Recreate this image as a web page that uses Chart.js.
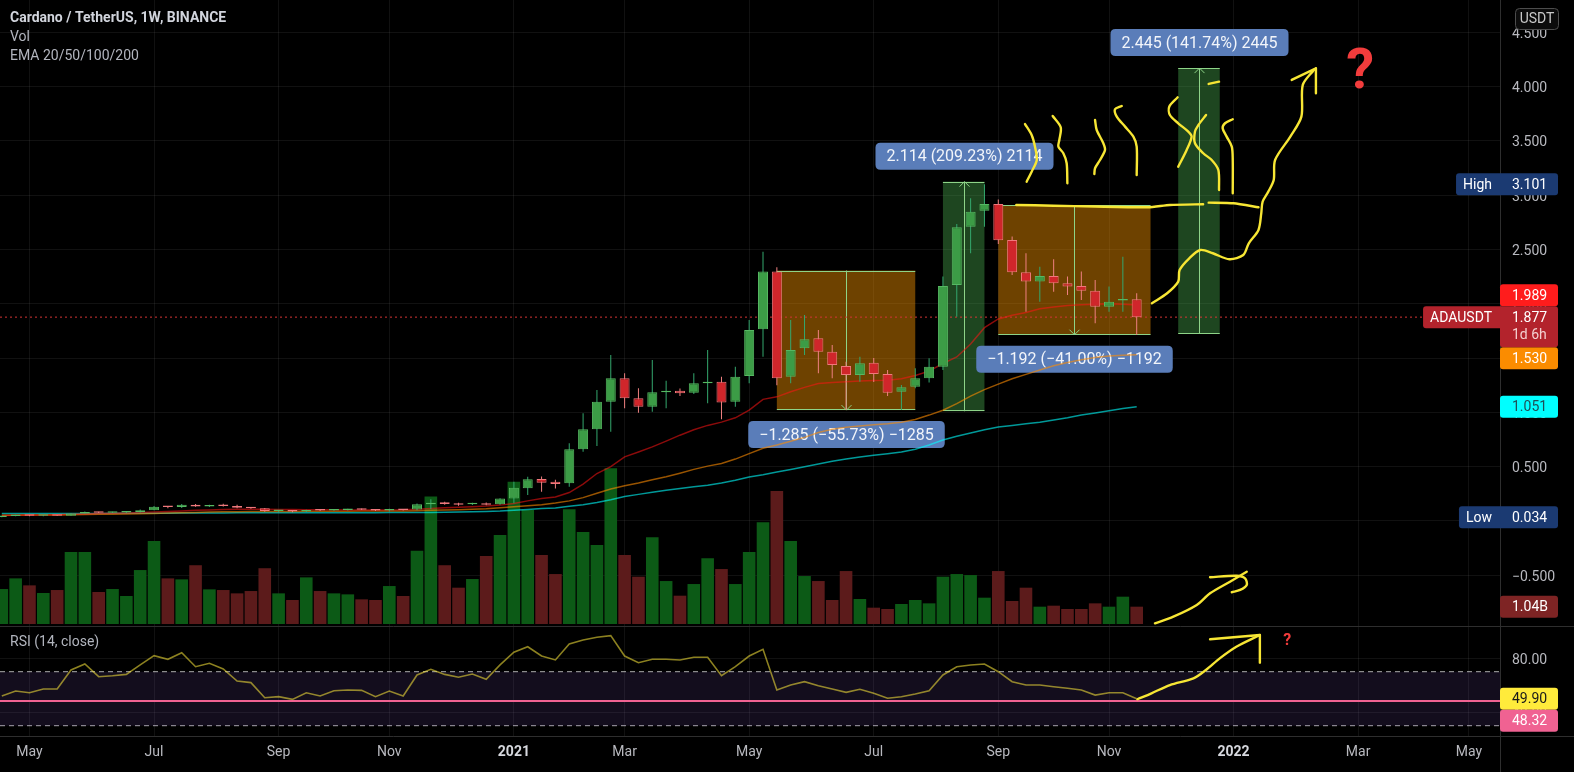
<!DOCTYPE html>
<html>
<head>
<meta charset="utf-8">
<title>Cardano / TetherUS, 1W, BINANCE</title>
<script src="https://cdn.jsdelivr.net/npm/chart.js@4.4.1/dist/chart.umd.min.js"></script>
<style>
  html, body { margin: 0; padding: 0; background: #000; overflow: hidden; }
  canvas { display: block; }
</style>
</head>
<body>
<canvas id="chart" width="1574" height="772"></canvas>
<script>
// ADA/USDT weekly candles. Bar 0 = week of 20 Apr 2020.

const opens = [0.036, 0.045, 0.052, 0.048, 0.051, 0.049, 0.070, 0.078, 0.076, 0.077, 0.080, 0.099, 0.130, 0.128, 0.150, 0.134, 0.140, 0.138, 0.122, 0.117, 0.093, 0.094, 0.088, 0.101, 0.097, 0.102, 0.106, 0.104, 0.097, 0.107,
  0.105, 0.155, 0.172, 0.163, 0.155, 0.163, 0.155, 0.207, 0.301, 0.387, 0.362, 0.347, 0.660, 0.844, 1.098, 1.314, 1.130, 1.052, 1.185, 1.200, 1.181, 1.268, 1.283, 1.098, 1.335, 1.765, 2.296,
  1.329, 1.590, 1.682, 1.559, 1.427, 1.344, 1.458, 1.354, 1.191, 1.237, 1.314, 1.421, 2.173, 2.710, 2.857, 2.919, 2.587, 2.290, 2.204, 2.256, 2.189, 2.164, 2.121, 1.973, 2.029, 2.041];
const highs = [0.046, 0.058, 0.056, 0.054, 0.055, 0.073, 0.088, 0.086, 0.084, 0.088, 0.105, 0.137, 0.138, 0.156, 0.157, 0.150, 0.158, 0.150, 0.126, 0.120, 0.099, 0.098, 0.103, 0.106, 0.106, 0.112, 0.115, 0.110, 0.112, 0.110,
  0.160, 0.200, 0.178, 0.168, 0.168, 0.170, 0.210, 0.362, 0.408, 0.410, 0.380, 0.715, 0.992, 1.206, 1.528, 1.360, 1.222, 1.483, 1.292, 1.220, 1.360, 1.575, 1.329, 1.421, 1.851, 2.480, 2.336,
  1.851, 1.897, 1.759, 1.621, 1.467, 1.513, 1.500, 1.390, 1.252, 1.406, 1.498, 2.250, 2.735, 2.971, 3.101, 2.960, 2.620, 2.465, 2.342, 2.410, 2.250, 2.296, 2.219, 2.158, 2.434, 2.097];
const lows = [0.034, 0.043, 0.044, 0.044, 0.048, 0.048, 0.068, 0.073, 0.073, 0.074, 0.079, 0.098, 0.117, 0.120, 0.130, 0.128, 0.133, 0.118, 0.113, 0.085, 0.083, 0.080, 0.083, 0.093, 0.094, 0.097, 0.100, 0.092, 0.088, 0.096,
  0.099, 0.110, 0.150, 0.140, 0.147, 0.145, 0.150, 0.163, 0.239, 0.270, 0.300, 0.316, 0.638, 0.690, 0.822, 1.038, 0.997, 1.006, 1.038, 1.150, 1.170, 1.084, 0.936, 1.052, 1.268, 1.513, 1.250,
  1.268, 1.529, 1.360, 1.314, 1.022, 1.283, 1.280, 1.151, 1.022, 1.222, 1.274, 1.390, 1.881, 2.465, 2.710, 2.550, 2.265, 1.927, 2.019, 2.111, 2.081, 2.035, 1.820, 1.927, 1.927, 1.713];
const closes = [0.045, 0.052, 0.048, 0.051, 0.049, 0.070, 0.078, 0.076, 0.080, 0.080, 0.099, 0.130, 0.128, 0.150, 0.134, 0.140, 0.138, 0.122, 0.117, 0.093, 0.094, 0.088, 0.101, 0.097, 0.102, 0.106, 0.104, 0.097, 0.107, 0.101,
  0.155, 0.160, 0.157, 0.150, 0.160, 0.150, 0.207, 0.307, 0.384, 0.353, 0.340, 0.660, 0.844, 1.098, 1.314, 1.130, 1.052, 1.185, 1.195, 1.176, 1.268, 1.280, 1.090, 1.329, 1.759, 2.296, 1.314,
  1.575, 1.673, 1.559, 1.436, 1.344, 1.452, 1.354, 1.181, 1.231, 1.314, 1.421, 2.164, 2.704, 2.848, 2.919, 2.586, 2.290, 2.204, 2.256, 2.189, 2.158, 2.121, 1.973, 2.019, 2.041, 1.877];
// volume in billions of ADA
const volumes = [2.10, 2.74, 2.32, 1.86, 2.04, 4.32, 4.32, 1.92, 2.10, 1.68, 3.24, 4.98, 2.74, 2.68, 3.53, 2.08, 2.04, 1.84, 1.98, 3.35, 1.84, 1.44, 2.80, 1.98, 1.84, 1.78, 1.48, 1.44, 2.28, 1.68,
  4.40, 7.65, 3.53, 2.18, 2.70, 4.08, 5.35, 8.55, 6.85, 4.14, 3.00, 6.89, 5.53, 4.74, 9.35, 4.14, 2.84, 5.21, 2.58, 1.70, 2.40, 3.95, 3.30, 2.40, 4.32, 6.11, 7.99,
  4.98, 2.88, 2.58, 1.44, 3.18, 1.50, 0.98, 0.90, 1.20, 1.44, 1.24, 2.84, 3.00, 2.94, 1.58, 3.18, 1.38, 2.18, 1.04, 1.10, 0.90, 0.90, 1.24, 1.04, 1.64, 1.04];

const ema20 = [0.050, 0.052, 0.054, 0.056, 0.058, 0.061, 0.065, 0.068, 0.071, 0.074, 0.078, 0.083, 0.088, 0.093, 0.098, 0.102, 0.105, 0.107, 0.108, 0.107, 0.106, 0.105, 0.104, 0.103, 0.103, 0.102, 0.102, 0.101, 0.101, 0.103,
  0.108, 0.115, 0.121, 0.126, 0.131, 0.137, 0.146, 0.160, 0.185, 0.208, 0.221, 0.262, 0.340, 0.437, 0.500, 0.590, 0.635, 0.682, 0.735, 0.790, 0.840, 0.880, 0.910, 0.950, 1.020, 1.120, 1.143,
  1.190, 1.230, 1.265, 1.275, 1.283, 1.290, 1.293, 1.296, 1.310, 1.340, 1.380, 1.450, 1.510, 1.630, 1.780, 1.860, 1.895, 1.920, 1.955, 1.970, 1.985, 1.990, 1.995, 2.000, 1.995, 1.989];
const ema50 = [0.052, 0.053, 0.054, 0.055, 0.056, 0.057, 0.059, 0.061, 0.063, 0.065, 0.067, 0.070, 0.073, 0.076, 0.079, 0.082, 0.084, 0.086, 0.087, 0.088, 0.088, 0.088, 0.089, 0.089, 0.090, 0.090, 0.091, 0.091, 0.092, 0.093,
  0.095, 0.098, 0.101, 0.104, 0.108, 0.113, 0.122, 0.130, 0.140, 0.150, 0.165, 0.185, 0.215, 0.255, 0.295, 0.325, 0.350, 0.380, 0.408, 0.440, 0.475, 0.505, 0.530, 0.570, 0.620, 0.670, 0.700,
  0.735, 0.770, 0.815, 0.845, 0.862, 0.875, 0.885, 0.895, 0.910, 0.935, 0.975, 1.020, 1.080, 1.150, 1.210, 1.260, 1.310, 1.350, 1.390, 1.430, 1.460, 1.485, 1.505, 1.518, 1.526, 1.530];
const ema100 = [0.070, 0.070, 0.070, 0.070, 0.070, 0.070, 0.070, 0.070, 0.071, 0.071, 0.071, 0.072, 0.072, 0.073, 0.073, 0.074, 0.074, 0.075, 0.075, 0.075, 0.075, 0.075, 0.075, 0.076, 0.076, 0.076, 0.076, 0.076, 0.077, 0.077,
  0.078, 0.079, 0.081, 0.083, 0.085, 0.088, 0.092, 0.099, 0.106, 0.114, 0.120, 0.135, 0.150, 0.170, 0.195, 0.225, 0.245, 0.265, 0.283, 0.300, 0.315, 0.330, 0.350, 0.375, 0.405, 0.425, 0.450,
  0.475, 0.500, 0.525, 0.550, 0.570, 0.590, 0.605, 0.620, 0.635, 0.660, 0.700, 0.745, 0.780, 0.810, 0.840, 0.865, 0.880, 0.895, 0.910, 0.930, 0.950, 0.975, 0.995, 1.015, 1.035, 1.051];

const rsi = [52, 55.7, 54.4, 57.2, 57.2, 71.3, 75.7, 66.3, 67, 68, 75, 81.9, 79.2, 84.1, 73.7, 76.2, 72, 63.1, 61.9, 50.7, 51.5, 49.5, 54.4, 52, 55.9, 56.4, 56.2, 51.5, 55.7, 52,
  67.6, 71.8, 68, 65.9, 68.3, 64.4, 75, 84.4, 88.5, 81.6, 78.7, 90.5, 93.5, 95.5, 96.7, 81.6, 76.7, 79.2, 79.2, 78.7, 80.7, 80.7, 67, 73.7, 81.6, 86.6, 56.4,
  60.2, 62.6, 59.6, 57.2, 54.7, 57, 54, 50.3, 51.5, 53.5, 55.9, 67.6, 73.7, 75, 75.7, 70, 62.6, 60.2, 60.2, 58.9, 57.7, 56.4, 52.7, 54.4, 54.4, 49.90];
const rsiLevel = 48.32;

const monthTicks = [2, 11, 20, 28, 37, 45, 54, 63, 72, 80, 89, 98, 106];
const monthLabels = ['May', 'Jul', 'Sep', 'Nov', '2021', 'Mar', 'May', 'Jul', 'Sep', 'Nov', '2022', 'Mar', 'May'];
const priceTicks = [-0.5, 0, 0.5, 1, 1.5, 2, 2.5, 3, 3.5, 4, 4.5];
const rsiTicks = [80, 40];

// price range tool: bar span, start price, end price, caption
const boxBars = [[56, 66], [68, 71], [72, 83], [85, 88]];
const boxFrom = [2.306, 1.0104, 2.907, 1.725];
const boxTo = [1.021, 3.1244, 1.715, 4.170];
const boxText = ['\u22121.285 (\u221255.73%) \u22121285', '2.114 (209.23%) 2114', '\u22121.192 (\u221241.00%) \u22121192', '2.445 (141.74%) 2445'];

// hand drawn yellow strokes as [bar, price]
const strokeTop1 = [[73.3, 2.91], [76, 2.903], [79, 2.895], [82.84, 2.889], [84.4, 2.91], [86.8, 2.916]];
const strokeTop2 = [[87.2, 2.931], [89, 2.925], [90.8, 2.889]];
const strokeRise = [[83.1, 2.005], [84.2, 2.097], [85.0, 2.204], [85.1, 2.311], [85.8, 2.419], [86.6, 2.495], [87.5, 2.465], [88.7, 2.41], [89.7, 2.449], [90.1, 2.557],
  [90.8, 2.68], [91.0, 2.833], [91.1, 2.94], [91.5, 3.03], [91.9, 3.14], [92.0, 3.324], [93.1, 3.539], [93.9, 3.723], [94.0, 4.015], [94.8, 4.153]];
const strokeRiseHead = [[93.2, 4.061], [94.95, 4.168], [94.95, 3.938]];
const squiggle1 = [[73.93, 3.655], [74.41, 3.554], [74.65, 3.447], [74.78, 3.324], [74.41, 3.216], [74.05, 3.124]];
const squiggle2 = [[75.93, 3.729], [76.51, 3.625], [76.41, 3.508], [76.34, 3.447], [76.7, 3.386], [76.94, 3.294], [76.99, 3.11]];
const squiggle3 = [[78.99, 3.692], [79.11, 3.6], [79.59, 3.478], [79.71, 3.416], [79.35, 3.324], [78.99, 3.248], [78.94, 3.195]];
const squiggle4 = [[80.92, 3.821], [80.43, 3.791], [80.56, 3.723], [81.16, 3.631], [81.76, 3.539], [82.0, 3.447], [82.0, 3.186]];
const squiggle5 = [[84.96, 3.901], [84.35, 3.815], [84.4, 3.738], [85.0, 3.662], [85.73, 3.585], [85.97, 3.539], [85.61, 3.416], [85.0, 3.262]];
const squiggle6 = [[87.01, 3.738], [86.46, 3.646], [86.21, 3.585], [86.21, 3.478], [86.81, 3.386], [87.42, 3.324], [87.9, 3.232], [87.95, 3.048]];
const squiggle7 = [[88.94, 3.699], [88.38, 3.662], [88.21, 3.616], [88.5, 3.539], [88.87, 3.447], [88.94, 3.324], [88.94, 3.018]];
const squiggle8 = [[87.2, 4.024], [87.95, 4.045]];
const volArrow = [[83.32, -0.942], [84.65, -0.881], [86.34, -0.773], [87.3, -0.666], [88.74, -0.559], [89.95, -0.467]];
const volArrowHead = [[87.3, -0.518], [89.23, -0.504], [89.83, -0.528], [89.95, -0.589], [89.47, -0.635], [88.87, -0.656]];
const rsiArrow = [[82.05, 49.6], [83.07, 54], [84.4, 60.1], [86.1, 65.1], [87.0, 71.3], [88.0, 79.9], [89.2, 88.5], [90.9, 97.2]];
const rsiArrowHead = [[87.3, 94.0], [90.9, 97.2], [90.9, 76.7]];
const questionMarks = [
  { bar: 98.14, value: 4.12, axis: 'y', size: 56 },
  { bar: 92.87, value: 92.7, axis: 'yr', size: 16 }
];

// ---- layout / style ----
const FONT = 'Roboto, "Noto Sans", "Liberation Sans", sans-serif';
const X_MIN = -0.13, X_MAX = 108.25;
const PRICE_MIN = -0.967, PRICE_MAX = 4.797;
const RSI_MIN = 22.37, RSI_MAX = 103.85;
const VOL_MIN = -6.727, VOL_MAX = 37.477;
const GRID = 'rgba(255,255,255,0.065)';
const EDGE = '#2e2e2e';
const AXIS_TEXT = '#b8b9bf';
const YELLOW = '#f7e634';

const UP_BODY = '#3c9c46', UP_EDGE = '#56b862', UP_WICK = '#34a86e';
const DN_BODY = '#d0262b', DN_EDGE = '#f0787c', DN_WICK = '#ef8080';
const isUp = closes.map((c, i) => c >= opens[i]);

function pts(arr) { return arr.map(([x, y]) => ({ x, y })); }

function stroke(arr, axis, tension) {
  return {
    type: 'line', data: pts(arr), yAxisID: axis || 'y', order: 0,
    borderColor: YELLOW, borderWidth: 2.4, pointRadius: 0,
    tension: tension === undefined ? 0.3 : tension,
    borderCapStyle: 'round', borderJoinStyle: 'round'
  };
}

function flatLine(value, axis, color, width, dash, order) {
  return {
    type: 'line', data: [{ x: X_MIN, y: value }, { x: X_MAX, y: value }], yAxisID: axis,
    borderColor: color, borderWidth: width, borderDash: dash, pointRadius: 0, order: order
  };
}

// keep the plot area edge to edge: no label padding from the axes
function noPad(s) {
  s.paddingTop = 0; s.paddingBottom = 0; s.paddingLeft = 0; s.paddingRight = 0;
}

const datasets = [
  // volume overlay
  {
    type: 'bar', yAxisID: 'yv', order: 100, grouped: false,
    data: volumes.map((v, i) => ({ x: i, y: v })),
    backgroundColor: isUp.map(u => u ? '#0c5a16' : '#5c1b1b'),
    barThickness: 12.6, borderWidth: 0, inflateAmount: 0
  },
  // EMA 20/50/100
  { type: 'line', yAxisID: 'y', order: 50, data: ema20.map((v, i) => ({ x: i, y: v })), borderColor: 'rgba(255,20,20,0.55)', borderWidth: 1.5, pointRadius: 0 },
  { type: 'line', yAxisID: 'y', order: 50, data: ema50.map((v, i) => ({ x: i, y: v })), borderColor: 'rgba(255,140,0,0.6)', borderWidth: 1.5, pointRadius: 0 },
  { type: 'line', yAxisID: 'y', order: 50, data: ema100.map((v, i) => ({ x: i, y: v })), borderColor: 'rgba(0,255,255,0.6)', borderWidth: 1.5, pointRadius: 0 },
  // last price line
  flatLine(closes[closes.length - 1], 'y', '#d33535', 1, [2, 3], 45),
  // candle wicks and bodies
  {
    type: 'bar', yAxisID: 'y', order: 20, grouped: false,
    data: highs.map((h, i) => ({ x: i, y: [lows[i], h] })),
    backgroundColor: isUp.map(u => u ? UP_WICK : DN_WICK),
    barThickness: 1, borderWidth: 0, inflateAmount: 0
  },
  {
    type: 'bar', yAxisID: 'y', order: 10, grouped: false,
    data: opens.map((o, i) => ({ x: i, y: [o, closes[i]] })),
    backgroundColor: isUp.map(u => u ? UP_BODY : DN_BODY),
    borderColor: isUp.map(u => u ? UP_EDGE : DN_EDGE),
    borderWidth: 1, borderSkipped: false, barThickness: 10, minBarLength: 1.5, inflateAmount: 0
  },
  // RSI pane
  Object.assign(flatLine(70, 'yr', 'rgba(230,230,230,0.75)', 1, [5, 4], 40), { fill: '+1', backgroundColor: 'rgba(126,87,194,0.15)' }),
  flatLine(30, 'yr', 'rgba(230,230,230,0.75)', 1, [5, 4], 40),
  flatLine(rsiLevel, 'yr', '#f06292', 2, [], 35),
  { type: 'line', yAxisID: 'yr', order: 30, data: rsi.map((v, i) => ({ x: i, y: v })), borderColor: 'rgba(255,235,59,0.55)', borderWidth: 1.6, pointRadius: 0 },
  // drawings
  stroke(strokeTop1, 'y', 0.2), stroke(strokeTop2, 'y', 0.2), stroke(strokeRise), stroke(strokeRiseHead, 'y', 0),
  stroke(squiggle1), stroke(squiggle2), stroke(squiggle3), stroke(squiggle4),
  stroke(squiggle5), stroke(squiggle6), stroke(squiggle7), stroke(squiggle8, 'y', 0),
  stroke(volArrow), stroke(volArrowHead, 'y', 0.3),
  stroke(rsiArrow, 'yr'), stroke(rsiArrowHead, 'yr', 0)
];

function rr(ctx, x, y, w, h, r) {
  ctx.beginPath();
  ctx.moveTo(x + r, y);
  ctx.lineTo(x + w - r, y);
  ctx.quadraticCurveTo(x + w, y, x + w, y + r);
  ctx.lineTo(x + w, y + h - r);
  ctx.quadraticCurveTo(x + w, y + h, x + w - r, y + h);
  ctx.lineTo(x + r, y + h);
  ctx.quadraticCurveTo(x, y + h, x, y + h - r);
  ctx.lineTo(x, y + r);
  ctx.quadraticCurveTo(x, y, x + r, y);
  ctx.closePath();
}

// value tag on the right price scale
function priceTag(ctx, yc, bg, fg, text, label) {
  const h = 22, left = 1500, right = 1558;
  ctx.font = '14px ' + FONT;
  let x0 = left;
  if (label) x0 = left - ctx.measureText(label).width - 15;
  ctx.fillStyle = bg;
  rr(ctx, x0, yc - h / 2, right - x0, h, 3);
  ctx.fill();
  ctx.fillStyle = fg;
  ctx.textBaseline = 'middle';
  ctx.textAlign = 'left';
  if (label) ctx.fillText(label, x0 + 7, yc + 1);
  ctx.fillText(text, left + 12, yc + 1);
}

const decor = {
  id: 'decor',
  beforeDatasetsDraw(chart) {
    const { ctx } = chart;
    const xs = chart.scales.x, ys = chart.scales.y;
    ctx.save();
    ctx.beginPath();
    ctx.rect(xs.left, ys.top, xs.width, ys.height);
    ctx.clip();
    boxBars.forEach((b, i) => {
      const x0 = xs.getPixelForValue(b[0]), x1 = xs.getPixelForValue(b[1]);
      const yA = ys.getPixelForValue(boxFrom[i]), yB = ys.getPixelForValue(boxTo[i]);
      const rising = boxTo[i] > boxFrom[i];
      const top = Math.min(yA, yB), bot = Math.max(yA, yB);
      ctx.fillStyle = rising ? 'rgba(76,175,80,0.40)' : 'rgba(255,152,0,0.43)';
      ctx.fillRect(x0, top, x1 - x0, bot - top);
      ctx.strokeStyle = '#8ed488';
      ctx.lineWidth = 1;
      const xm = Math.round((x0 + x1) / 2) + 0.5;
      const d = rising ? 1 : -1;
      ctx.beginPath();
      ctx.moveTo(x0, Math.round(top) + 0.5); ctx.lineTo(x1, Math.round(top) + 0.5);
      ctx.moveTo(x0, Math.round(bot) - 0.5); ctx.lineTo(x1, Math.round(bot) - 0.5);
      ctx.moveTo(xm, yA); ctx.lineTo(xm, yB);
      ctx.moveTo(xm - 5, yB + 5 * d); ctx.lineTo(xm, yB); ctx.lineTo(xm + 5, yB + 5 * d);
      ctx.stroke();
      ctx.font = '16px ' + FONT;
      const w = ctx.measureText(boxText[i]).width + 22, h = 27;
      const ly = rising ? top - 12 - h : bot + 11;
      ctx.fillStyle = '#5a7db9';
      rr(ctx, xm - w / 2, ly, w, h, 5);
      ctx.fill();
      ctx.fillStyle = '#f2f5fa';
      ctx.textAlign = 'center';
      ctx.textBaseline = 'middle';
      ctx.fillText(boxText[i], xm, ly + h / 2 + 1);
    });
    ctx.restore();
  },
  afterDraw(chart) {
    const { ctx } = chart;
    const xs = chart.scales.x, ys = chart.scales.y, yr = chart.scales.yr, yv = chart.scales.yv;
    const last = closes.length - 1;
    ctx.save();

    // pane separators
    ctx.strokeStyle = EDGE;
    ctx.lineWidth = 1;
    ctx.beginPath();
    ctx.moveTo(0, Math.round(yr.top) + 0.5); ctx.lineTo(1574, Math.round(yr.top) + 0.5);
    ctx.moveTo(0, Math.round(xs.top) + 0.5); ctx.lineTo(1574, Math.round(xs.top) + 0.5);
    ctx.moveTo(Math.round(ys.left) + 0.5, 0); ctx.lineTo(Math.round(ys.left) + 0.5, 772);
    ctx.stroke();

    // question marks
    questionMarks.forEach(q => {
      ctx.font = 'bold ' + q.size + 'px ' + FONT;
      ctx.fillStyle = '#f23c3c';
      ctx.textAlign = 'center';
      ctx.textBaseline = 'middle';
      ctx.fillText('?', xs.getPixelForValue(q.bar), chart.scales[q.axis].getPixelForValue(q.value));
    });

    // legend texts
    ctx.textAlign = 'left';
    ctx.textBaseline = 'middle';
    ctx.fillStyle = '#d1d4dc';
    ctx.font = 'bold 14px ' + FONT;
    ctx.fillText('Cardano / TetherUS, 1W, BINANCE', 10, 18);
    ctx.fillStyle = '#b2b5be';
    ctx.font = '14px ' + FONT;
    ctx.fillText('Vol', 10, 37.5);
    ctx.fillText('EMA 20/50/100/200', 10, 56);
    ctx.fillText('RSI (14, close)', 10, yr.top + 16);

    // currency box
    ctx.fillStyle = '#0c0c0c';
    ctx.strokeStyle = '#4d4d4d';
    rr(ctx, 1515.5, 8.5, 43, 21, 4);
    ctx.fill();
    ctx.stroke();
    ctx.fillStyle = '#c8c8c8';
    ctx.textAlign = 'center';
    ctx.fillText('USDT', 1537, 19.5);

    // high / low of visible range
    priceTag(ctx, ys.getPixelForValue(Math.max(...highs)), '#1b3a72', '#ffffff', Math.max(...highs).toFixed(3), 'High');
    priceTag(ctx, ys.getPixelForValue(Math.min(...lows)), '#1b3a72', '#ffffff', Math.min(...lows).toFixed(3), 'Low');

    // last price tag, other tags pushed clear of it
    const yClose = ys.getPixelForValue(closes[last]);
    const fixTop = yClose - 11, fixBot = yClose + 30;
    [[ema20[last], '#ff1c1c', '#ffffff'], [ema50[last], '#fb8c00', '#ffffff'], [ema100[last], '#00ffff', '#1f4f57']].forEach(([v, bg, fg]) => {
      let yc = ys.getPixelForValue(v);
      if (yc + 11 > fixTop && yc - 11 < fixBot) yc = yc < yClose ? fixTop - 11 : fixBot + 11;
      priceTag(ctx, yc, bg, fg, v.toFixed(3));
    });
    ctx.font = '14px ' + FONT;
    const lbl = 'ADAUSDT';
    const lx = 1500 - ctx.measureText(lbl).width - 15;
    ctx.fillStyle = '#b3232c';
    rr(ctx, lx, fixTop, 1500 - lx + 4, 22, 3);
    ctx.fill();
    rr(ctx, 1500, fixTop, 58, fixBot - fixTop, 3);
    ctx.fill();
    ctx.fillStyle = '#ffffff';
    ctx.textAlign = 'left';
    ctx.fillText(lbl, lx + 7, yClose + 1);
    ctx.fillText(closes[last].toFixed(3), 1512, yClose + 1);
    ctx.fillStyle = '#f3d0d0';
    ctx.fillText('1d 6h', 1512, yClose + 18);

    // volume tag
    priceTag(ctx, yv.getPixelForValue(volumes[last]), '#7e2424', '#ffffff', volumes[last].toFixed(2) + 'B');

    // RSI tags
    const yRsi = yr.getPixelForValue(rsi[last]);
    priceTag(ctx, yRsi, '#ffeb3b', '#1a1a1a', rsi[last].toFixed(2));
    let yLvl = yr.getPixelForValue(rsiLevel);
    if (Math.abs(yLvl - yRsi) < 22) yLvl = yRsi + 22;
    priceTag(ctx, yLvl, '#f06292', '#ffffff', rsiLevel.toFixed(2));
    ctx.restore();
  }
};

Chart.defaults.font.family = FONT;

new Chart(document.getElementById('chart'), {
  type: 'line',
  data: { datasets: datasets },
  options: {
    responsive: false,
    animation: false,
    events: [],
    layout: { padding: 0 },
    plugins: { legend: { display: false }, tooltip: { enabled: false } },
    scales: {
      x: {
        type: 'linear', min: X_MIN, max: X_MAX, offset: false,
        grid: { color: GRID, offset: false, drawTicks: false },
        border: { display: false },
        afterBuildTicks: s => { s.ticks = monthTicks.map(v => ({ value: v })); },
        afterFit: s => { s.height = 36; noPad(s); },
        ticks: {
          autoSkip: false, maxRotation: 0, padding: 8,
          color: c => /\d/.test(monthLabels[c.index]) ? '#d6d8de' : AXIS_TEXT,
          font: c => ({ family: FONT, size: 14, weight: /\d/.test(monthLabels[c.index]) ? 'bold' : 'normal' }),
          callback: (v, i) => monthLabels[i]
        }
      },
      y: {
        type: 'linear', position: 'right', stack: 'panes', stackWeight: 626,
        min: PRICE_MIN, max: PRICE_MAX, beginAtZero: false,
        grid: { color: GRID, drawTicks: false },
        border: { display: false },
        afterBuildTicks: s => { s.ticks = priceTicks.map(v => ({ value: v })); },
        afterFit: s => { s.width = 74; noPad(s); },
        ticks: {
          padding: 12, labelOffset: 2, color: AXIS_TEXT, font: { size: 14 },
          callback: v => v.toFixed(3).replace('-', '\u2212')
        }
      },
      yr: {
        type: 'linear', position: 'right', stack: 'panes', stackWeight: 110,
        min: RSI_MIN, max: RSI_MAX, beginAtZero: false,
        grid: { color: GRID, drawTicks: false },
        border: { display: false },
        afterBuildTicks: s => { s.ticks = rsiTicks.map(v => ({ value: v })); },
        afterFit: s => { s.width = 74; noPad(s); },
        ticks: {
          padding: 12, labelOffset: 2, color: AXIS_TEXT, font: { size: 14 },
          callback: v => v.toFixed(2)
        }
      },
      yv: {
        type: 'linear', position: 'left', display: false,
        min: VOL_MIN, max: VOL_MAX, beginAtZero: false,
        afterFit: noPad
      }
    }
  },
  plugins: [decor]
});
</script>
</body>
</html>
